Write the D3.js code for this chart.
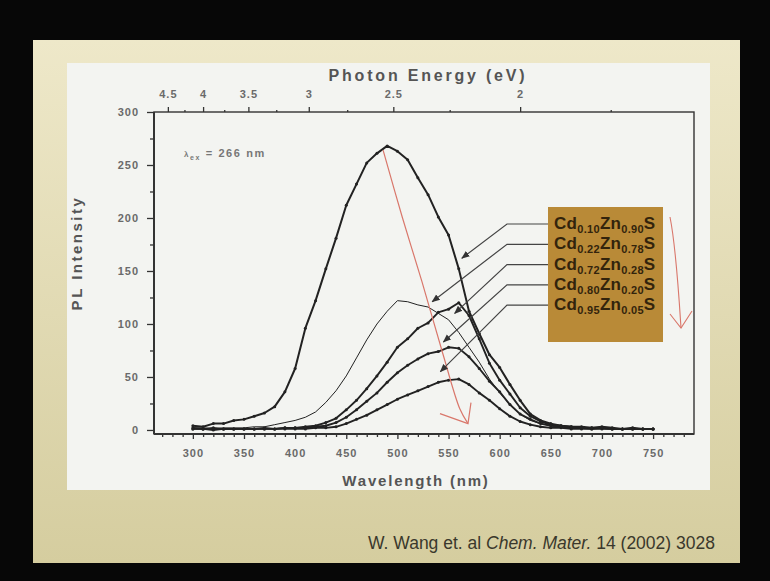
<!DOCTYPE html>
<html>
<head>
<meta charset="utf-8">
<script src="https://cdn.jsdelivr.net/npm/d3@7"></script>
<style>
  body { margin: 0; background: #070707; }
  svg { display: block; }
  text { font-family: "Liberation Sans", Arial, sans-serif; }
</style>
</head>
<body>
<div id="chart"></div>
<script>
// Wavelengths (nm) the spectra were read at
var wavelengths = [300, 310, 320, 330, 340, 350, 360, 370, 380, 390,
  400, 410, 420, 430, 440, 450, 460, 470, 480, 490,
  500, 510, 520, 530, 540, 550, 560, 570, 580, 590,
  600, 610, 620, 630, 640, 650, 660, 670, 680, 690,
  700, 710, 720, 730, 740, 750];

// PL intensity
var cd10 = [4, 3, 6, 6, 9, 10, 13, 16, 22, 36,
  58, 96, 122, 152, 181, 212, 232, 252, 261, 268,
  263, 255, 238, 222, 201, 184, 152, 112, 91, 71,
  59, 43, 28, 15, 9, 6, 4, 3, 3, 2,
  3, 2, 1, 2, 1, 1];
var cd22 = [2, 2, 1, 2, 2, 2, 3, 3, 5, 7,
  9, 12, 17, 26, 37, 51, 68, 85, 100, 112,
  122, 121, 118, 116, 110, 104, 92, 78, 64, 48,
  35, 24, 15, 9, 6, 4, 3, 2, 2, 2,
  1, 1, 1, 1, 1, 1];
var cd72 = [2, 1, 2, 1, 1, 1, 1, 2, 1, 2,
  2, 3, 4, 7, 11, 19, 28, 39, 51, 64,
  78, 86, 96, 101, 111, 114, 120, 108, 86, 63,
  47, 34, 21, 13, 8, 5, 4, 3, 2, 2,
  2, 1, 1, 1, 1, 1];
var cd80 = [1, 1, 1, 1, 1, 1, 1, 1, 1, 2,
  2, 2, 3, 4, 7, 12, 19, 27, 35, 45,
  54, 61, 67, 72, 74, 78, 77, 69, 58, 46,
  36, 24, 15, 10, 6, 4, 3, 2, 2, 1,
  2, 1, 1, 1, 1, 1];
var cd95 = [1, 1, 0, 1, 1, 1, 1, 1, 1, 1,
  1, 1, 2, 2, 3, 6, 10, 14, 19, 24,
  29, 33, 37, 41, 45, 47, 48, 43, 35, 28,
  20, 13, 8, 5, 3, 2, 2, 1, 1, 1,
  1, 1, 1, 1, 1, 1];

// Legend composition labels
var cdFractions = ["0.10", "0.22", "0.72", "0.80", "0.95"];
var znFractions = ["0.90", "0.78", "0.28", "0.20", "0.05"];
// where each leader arrow points [nm, intensity]
var arrowTips = [[563, 162], [534, 121], [556, 110], [545, 83], [542, 55]];

// Tick values
var xMajorTicks = [300, 350, 400, 450, 500, 550, 600, 650, 700, 750];
var xMinorTicks = [270, 280, 290, 310, 320, 330, 340, 360, 370, 380, 390, 410, 420, 430, 440,
  460, 470, 480, 490, 510, 520, 530, 540, 560, 570, 580, 590, 610, 620, 630, 640,
  660, 670, 680, 690, 710, 720, 730, 740, 760, 770, 780];
var yMajorTicks = [0, 50, 100, 150, 200, 250, 300];
var yMinorTicks = [25, 75, 125, 175, 225, 275];
var energyMajor = [4.5, 4, 3.5, 3, 2.5, 2];
var energyMinor = [4.25, 3.75, 3.25, 2.75, 2.25, 1.75];

// red trend arrow through the peaks [nm, intensity]
var trendPath = [[486, 264], [505, 200], [524, 140], [545, 70], [561, 20], [569, 6]];

var svgWidth = 770, svgHeight = 581;
var svg = d3.select("#chart").append("svg")
  .attr("width", svgWidth)
  .attr("height", svgHeight);

// slide background
svg.append("rect").attr("width", svgWidth).attr("height", svgHeight).attr("fill", "#070707");
var defs = svg.append("defs");
var grad = defs.append("linearGradient").attr("id", "slideGrad")
  .attr("x1", 0).attr("y1", 0).attr("x2", 0).attr("y2", 1);
grad.append("stop").attr("offset", "0%").attr("stop-color", "#eee8c9");
grad.append("stop").attr("offset", "100%").attr("stop-color", "#d5cd9f");
svg.append("rect").attr("x", 33).attr("y", 40).attr("width", 707).attr("height", 523)
  .attr("fill", "url(#slideGrad)");
svg.append("rect").attr("x", 67).attr("y", 63).attr("width", 643).attr("height", 427)
  .attr("fill", "#f3f4f1");

defs.append("marker").attr("id", "arrowHead")
  .attr("viewBox", "0 0 10 10").attr("refX", 9).attr("refY", 5)
  .attr("markerWidth", 7).attr("markerHeight", 7).attr("orient", "auto")
  .append("path").attr("d", "M0,1 L10,5 L0,9 Z").attr("fill", "#333");

var margin = {top: 112, left: 154};
var width = 694 - 154;
var height = 434 - 112;
var chartGroup = svg.append("g")
  .attr("transform", `translate(${margin.left}, ${margin.top})`);

var xScale = d3.scaleLinear().domain([262, 790]).range([0, width]);
var yScale = d3.scaleLinear().domain([-3.8, 300]).range([height, 0]);

function styleAxis(g) {
  g.select(".domain").remove();
  g.selectAll(".tick line").attr("stroke", "#333").attr("stroke-width", 1.3);
  g.selectAll(".tick text")
    .attr("fill", "#6a6a6a")
    .style("font-size", "11px")
    .style("font-weight", "bold")
    .style("letter-spacing", "1px");
}

// bottom axis
chartGroup.append("g")
  .attr("transform", `translate(0, ${height})`)
  .call(d3.axisBottom(xScale).tickValues(xMinorTicks).tickSize(3).tickFormat(""))
  .call(styleAxis);
chartGroup.append("g")
  .attr("transform", `translate(0, ${height})`)
  .call(d3.axisBottom(xScale).tickValues(xMajorTicks).tickSize(5).tickPadding(10))
  .call(styleAxis);

// left axis
chartGroup.append("g")
  .call(d3.axisLeft(yScale).tickValues(yMinorTicks).tickSize(4).tickFormat(""))
  .call(styleAxis);
chartGroup.append("g")
  .call(d3.axisLeft(yScale).tickValues(yMajorTicks).tickSize(7).tickPadding(8))
  .call(styleAxis);

// top axis: photon energy
chartGroup.append("g")
  .call(d3.axisTop(xScale).tickValues(energyMinor.map(e => 1240 / e)).tickSize(2).tickFormat(""))
  .call(styleAxis);
chartGroup.append("g")
  .call(d3.axisTop(xScale).tickValues(energyMajor.map(e => 1240 / e)).tickSize(5).tickPadding(9)
    .tickFormat(d => d3.format("")(Math.round(1240 / d * 100) / 100)))
  .call(styleAxis);

// frame
chartGroup.append("rect")
  .attr("width", width).attr("height", height)
  .attr("fill", "none").attr("stroke", "#333").attr("stroke-width", 1.4);
chartGroup.append("line").attr("x1", 0).attr("x2", width).attr("y1", height).attr("y2", height)
  .attr("stroke", "#333").attr("stroke-width", 2.2);
chartGroup.append("line").attr("x1", 0).attr("x2", 0).attr("y1", 0).attr("y2", height)
  .attr("stroke", "#333").attr("stroke-width", 2);

// axis titles
svg.append("text")
  .attr("x", 428).attr("y", 81)
  .attr("text-anchor", "middle")
  .attr("fill", "#555")
  .style("font-size", "16px").style("font-weight", "bold").style("letter-spacing", "2.8px")
  .text("Photon Energy (eV)");
svg.append("text")
  .attr("x", 416).attr("y", 486)
  .attr("text-anchor", "middle")
  .attr("fill", "#555")
  .style("font-size", "15px").style("font-weight", "bold").style("letter-spacing", "1.8px")
  .text("Wavelength (nm)");
svg.append("text")
  .attr("transform", "translate(82, 253) rotate(-90)")
  .attr("text-anchor", "middle")
  .attr("fill", "#555")
  .style("font-size", "15px").style("font-weight", "bold").style("letter-spacing", "2.5px")
  .text("PL Intensity");

// excitation note
var exText = svg.append("text").attr("x", 184).attr("y", 157)
  .attr("fill", "#777").style("font-size", "11px").style("font-weight", "bold")
  .style("letter-spacing", "1.6px");
exText.append("tspan").style("font-size", "8px").text("λ");
exText.append("tspan").attr("dy", 3).style("font-size", "7px").text("ex");
exText.append("tspan").attr("dy", -3).text(" = 266 nm");

// spectra
var line = d3.line()
  .x((d, i) => xScale(wavelengths[i]))
  .y(d => yScale(d));

var series = [
  {values: cd95, w: 1.9, beads: true},
  {values: cd80, w: 1.9, beads: true},
  {values: cd72, w: 1.9, beads: true},
  {values: cd22, w: 1.0, beads: false},
  {values: cd10, w: 2.0, beads: true}
];
chartGroup.selectAll(".spectrum")
  .data(series)
  .enter()
  .append("path")
  .attr("class", "spectrum")
  .attr("d", d => line(d.values))
  .attr("fill", "none")
  .attr("stroke", "#222")
  .attr("stroke-width", d => d.w)
  .attr("stroke-linejoin", "round");

// measured points give the noisy, beaded look of the scanned spectra
series.filter(s => s.beads).forEach(function(s) {
  chartGroup.append("g").selectAll("circle")
    .data(s.values)
    .enter()
    .append("circle")
    .attr("cx", (d, i) => xScale(wavelengths[i]))
    .attr("cy", d => yScale(d))
    .attr("r", 1.5)
    .attr("fill", "#222");
});

// red trend arrow
var trendLine = d3.line()
  .x(d => xScale(d[0])).y(d => yScale(d[1]))
  .curve(d3.curveCatmullRom);
chartGroup.append("path")
  .attr("d", trendLine(trendPath))
  .attr("fill", "none").attr("stroke", "#d9776b").attr("stroke-width", 1.2);
var tip = trendPath[trendPath.length - 1];
var tx = xScale(tip[0]), ty = yScale(tip[1]);
chartGroup.append("path")
  .attr("d", `M${tx - 28},${ty - 10} L${tx},${ty} L${tx + 3},${ty - 21}`)
  .attr("fill", "none").attr("stroke", "#d9776b").attr("stroke-width", 1.2);

// legend box
var box = {x: 548, y: 207, w: 115, h: 135};
var legend = svg.append("g").attr("transform", `translate(${box.x}, ${box.y})`);
legend.append("rect").attr("width", box.w).attr("height", box.h).attr("fill", "#b98a37");

var rowY = cdFractions.map((c, i) => 17 + i * 20.3);

// leader lines to each curve
svg.selectAll(".leader")
  .data(arrowTips)
  .enter()
  .append("path")
  .attr("class", "leader")
  .attr("d", (d, i) => {
    var y0 = box.y + rowY[i];
    return `M${box.x},${y0} H${box.x - 41} L${margin.left + xScale(d[0])},${margin.top + yScale(d[1])}`;
  })
  .attr("fill", "none").attr("stroke", "#444").attr("stroke-width", 1.2)
  .attr("marker-end", "url(#arrowHead)");

var rows = legend.selectAll(".row")
  .data(cdFractions)
  .enter()
  .append("text")
  .attr("class", "row")
  .attr("x", 6)
  .attr("y", (d, i) => rowY[i] + 5)
  .attr("fill", "#33240c")
  .style("font-size", "17px")
  .style("font-weight", "bold")
  .style("letter-spacing", "0.3px");
rows.append("tspan").text("Cd");
rows.append("tspan").attr("dy", 4).style("font-size", "11px").text(d => d);
rows.append("tspan").attr("dy", -4).text("Zn");
rows.append("tspan").attr("dy", 4).style("font-size", "11px").text((d, i) => znFractions[i]);
rows.append("tspan").attr("dy", -4).text("S");

// red arrow next to legend
svg.append("path")
  .attr("d", `M${box.x + box.w + 7},${box.y + 10} C${box.x + box.w + 13},${box.y + 40} ${box.x + box.w + 16},${box.y + 90} ${box.x + box.w + 18},${box.y + 121}`)
  .attr("fill", "none").attr("stroke", "#d9776b").attr("stroke-width", 1.1);
svg.append("path")
  .attr("d", `M${box.x + box.w + 7},${box.y + 107} L${box.x + box.w + 18},${box.y + 121} L${box.x + box.w + 29},${box.y + 104}`)
  .attr("fill", "none").attr("stroke", "#d9776b").attr("stroke-width", 1.1);

// citation
var cite = svg.append("text").attr("x", 368).attr("y", 549)
  .attr("fill", "#3a382c").style("font-size", "17.5px");
cite.append("tspan").text("W. Wang et. al ");
cite.append("tspan").style("font-style", "italic").text("Chem. Mater.");
cite.append("tspan").text(" 14 (2002) 3028");
</script>
</body>
</html>
